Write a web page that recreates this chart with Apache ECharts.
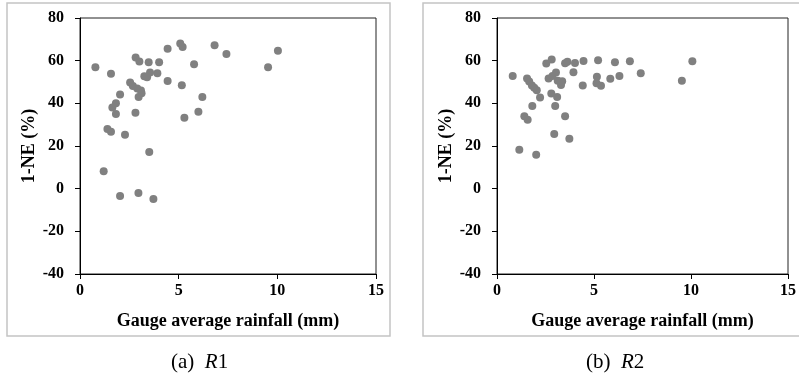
<!DOCTYPE html>
<html>
<head>
<meta charset="utf-8">
<script src="https://cdn.jsdelivr.net/npm/echarts@6/dist/echarts.min.js"></script>
<style>
  html, body { margin: 0; padding: 0; background: #fff; }
  #chart { width: 799px; height: 375px; }
</style>
</head>
<body>
<div id="chart"></div>
<script>
// R1 panel: gauge average rainfall (mm) vs 1-NE (%)
var r1Rain = [0.78, 1.57, 2.03, 1.82, 1.64, 1.82, 1.39, 1.57, 2.28, 1.20,
    2.82, 3.01, 3.48, 4.01, 4.44, 5.08, 5.20, 6.82, 7.42, 9.53,
    10.03, 5.78, 2.54, 2.68, 2.90, 3.09, 3.12, 2.97, 3.26, 3.40,
    3.55, 3.92, 4.44, 5.16, 2.81, 3.51, 5.29, 6.00, 6.20, 2.03,
    2.96, 3.72];
var r1Score = [56.9, 53.9, 44.1, 40.0, 38.1, 35.0, 28.0, 26.7, 25.3, 8.2,
    61.5, 59.6, 59.2, 59.2, 65.6, 68.0, 66.4, 67.2, 63.1, 56.9,
    64.7, 58.3, 49.8, 48.1, 47.0, 46.0, 44.7, 43.0, 52.7, 52.2,
    54.5, 54.1, 50.5, 48.5, 35.6, 17.2, 33.2, 36.0, 43.0, -3.4,
    -2.0, -4.9];
// R2 panel
var r2Rain = [0.81, 1.55, 1.66, 1.80, 1.92, 2.05, 2.22, 1.82, 1.41, 1.58,
    1.15, 2.02, 2.95, 3.73, 3.51, 3.00, 3.10, 2.80, 2.54, 2.82,
    2.66, 2.86, 3.04, 3.13, 3.36, 3.30, 3.51, 3.63, 4.02, 3.94,
    4.46, 4.42, 5.21, 5.15, 5.13, 5.36, 6.08, 5.84, 6.31, 6.85,
    7.41, 9.53, 10.07];
var r2Score = [52.8, 51.6, 50.2, 48.4, 47.3, 46.1, 42.7, 38.7, 33.9, 32.3,
    18.3, 15.9, 25.6, 23.4, 34.0, 38.7, 43.0, 44.6, 58.7, 60.5,
    51.6, 52.8, 54.5, 50.6, 50.3, 48.6, 58.8, 59.5, 58.9, 54.6,
    59.9, 48.4, 60.2, 52.5, 49.4, 48.2, 59.2, 51.5, 52.8, 59.7,
    54.1, 50.6, 59.7];
var xTicks = [0, 5, 10, 15];
var yTicks = [-40, -20, 0, 20, 40, 60, 80];

function pairs(xs, ys) {
    var out = [];
    for (var i = 0; i < xs.length; i++) out.push([xs[i], ys[i]]);
    return out;
}

var serif = '"Liberation Serif", "Times New Roman", serif';

function xAxisOf(idx) {
    return {
        gridIndex: idx, type: 'value',
        min: xTicks[0], max: xTicks[xTicks.length - 1], interval: 5,
        name: 'Gauge average rainfall (mm)', nameLocation: 'middle', nameGap: 38,
        nameTextStyle: { fontFamily: serif, fontWeight: 'bold', fontSize: 18, color: '#000' },
        axisLine: { show: true, onZero: false, lineStyle: { color: '#000', width: 1 } },
        axisTick: { show: true, inside: false, length: 5, lineStyle: { color: '#000' } },
        axisLabel: { fontFamily: serif, fontWeight: 'bold', fontSize: 16, color: '#000', margin: 9 },
        splitLine: { show: false }
    };
}
function yAxisOf(idx) {
    return {
        gridIndex: idx, type: 'value',
        min: yTicks[0], max: yTicks[yTicks.length - 1], interval: 20,
        name: '1-NE (%)', nameLocation: 'middle', nameRotate: 90, nameGap: 42,
        nameTextStyle: { fontFamily: serif, fontWeight: 'bold', fontSize: 18, color: '#000' },
        axisLine: { show: true, onZero: false, lineStyle: { color: '#000', width: 1 } },
        axisTick: { show: true, inside: false, length: 5, lineStyle: { color: '#000' } },
        axisLabel: { fontFamily: serif, fontWeight: 'bold', fontSize: 16, color: '#000', margin: 16 },
        splitLine: { show: false }
    };
}

var myChart = echarts.init(document.getElementById('chart'));
var option = {
    animation: false,
    backgroundColor: '#fff',
    title: [
        { text: '(a)  {i|R}1', left: 166, top: 347,
          textStyle: { fontFamily: serif, fontWeight: 'normal', fontSize: 21, color: '#000',
                       rich: { i: { fontFamily: serif, fontStyle: 'italic', fontSize: 21, color: '#000' } } } },
        { text: '(b)  {i|R}2', left: 581, top: 347,
          textStyle: { fontFamily: serif, fontWeight: 'normal', fontSize: 21, color: '#000',
                       rich: { i: { fontFamily: serif, fontStyle: 'italic', fontSize: 21, color: '#000' } } } }
    ],
    graphic: [
        { type: 'rect', shape: { x: 7, y: 3, width: 383, height: 333 },
          style: { fill: 'none', stroke: '#c4c4c4', lineWidth: 1.5 }, silent: true },
        { type: 'rect', shape: { x: 423, y: 3, width: 390, height: 333 },
          style: { fill: 'none', stroke: '#c4c4c4', lineWidth: 1.5 }, silent: true }
    ],
    grid: [
        { left: 80, top: 18, width: 296, height: 256, show: true, borderColor: '#222', borderWidth: 1 },
        { left: 497, top: 18, width: 295, height: 256, show: true, borderColor: '#222', borderWidth: 1 }
    ],
    xAxis: [xAxisOf(0), xAxisOf(1)],
    yAxis: [yAxisOf(0), yAxisOf(1)],
    series: [
        { name: 'R1', type: 'scatter', xAxisIndex: 0, yAxisIndex: 0,
          symbolSize: 8, itemStyle: { color: '#808080', opacity: 1 },
          data: pairs(r1Rain, r1Score) },
        { name: 'R2', type: 'scatter', xAxisIndex: 1, yAxisIndex: 1,
          symbolSize: 8, itemStyle: { color: '#808080', opacity: 1 },
          data: pairs(r2Rain, r2Score) }
    ]
};
myChart.setOption(option);
</script>
</body>
</html>
